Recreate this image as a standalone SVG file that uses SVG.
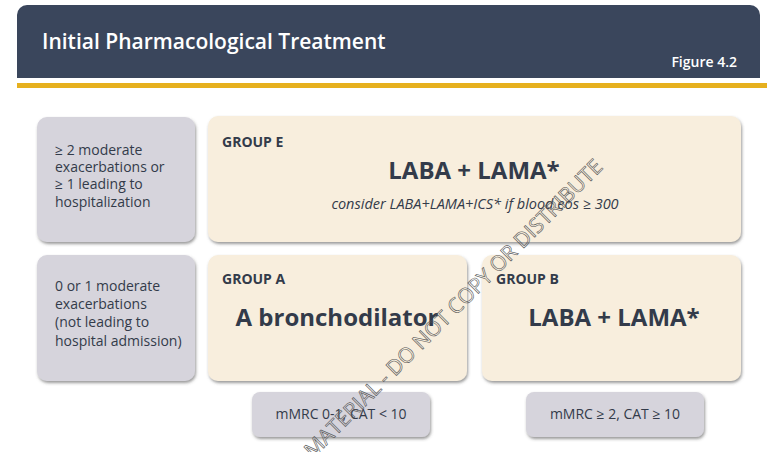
<svg xmlns="http://www.w3.org/2000/svg" width="767" height="452" viewBox="0 0 767 452">
<defs>
<filter id="sh" x="-10%" y="-10%" width="120%" height="130%"><feDropShadow dx="1" dy="2" stdDeviation="1.5" flood-color="#555" flood-opacity="0.6"/></filter>
<style>
text{font-family:"Open Sans","Noto Sans","Liberation Sans",sans-serif;fill:#333b4a}
.crit{fill:#d6d4dc;filter:url(#sh)}
.grp{fill:#f8eedd;filter:url(#sh)}
.c{font-size:14px}
.gl{font-size:14px;font-weight:bold}
.big{font-size:24px;font-weight:bold;text-anchor:middle}
.mm{font-size:14px;text-anchor:middle}
</style>
</defs>
<rect width="767" height="452" fill="#ffffff"/>
<g id="header">
<path d="M17 78 V15 a10 10 0 0 1 10 -10 H750 a10 10 0 0 1 10 10 V78 Z" fill="#3a465c"/>
<rect x="17" y="83" width="750" height="5" fill="#e6b01e"/>
<text x="42" y="49" style="font-size:21px;font-weight:600;fill:#ffffff">Initial Pharmacological Treatment</text>
<text x="737" y="67" style="font-size:14px;font-weight:600;fill:#ffffff;text-anchor:end">Figure 4.2</text>
</g>
<g id="crit1"><rect class="crit" x="37" y="117" width="158" height="125" rx="10"/>
<text class="c" x="55" y="155">≥ 2 moderate</text><text class="c" x="55" y="172">exacerbations or</text><text class="c" x="55" y="189">≥ 1 leading to</text><text class="c" x="55" y="207">hospitalization</text></g>
<g id="crit2"><rect class="crit" x="37" y="255" width="158" height="126" rx="10"/>
<text class="c" x="55" y="291">0 or 1 moderate</text><text class="c" x="55" y="309">exacerbations</text><text class="c" x="55" y="327">(not leading to</text><text class="c" x="55" y="346">hospital admission)</text></g>
<g id="groupE"><rect class="grp" x="208" y="116" width="533" height="126" rx="10"/>
<text class="gl" x="222" y="147">GROUP E</text>
<text class="big" x="474" y="179">LABA + LAMA*</text>
<text x="475" y="209" style="font-size:14.5px;font-style:italic;text-anchor:middle">consider LABA+LAMA+ICS* if blood eos ≥ 300</text></g>
<g id="groupA"><rect class="grp" x="208" y="255" width="259" height="126" rx="10"/>
<text class="gl" x="222" y="284">GROUP A</text>
<text class="big" x="337" y="326">A bronchodilator</text></g>
<g id="groupB"><rect class="grp" x="482" y="255" width="259" height="126" rx="10"/>
<text class="gl" x="496" y="284">GROUP B</text>
<text class="big" x="614" y="326">LABA + LAMA*</text></g>
<g id="symA"><rect class="crit" x="252" y="392" width="178" height="45" rx="8"/>
<text class="mm" x="341" y="419">mMRC 0-1, CAT &lt; 10</text></g>
<g id="symB"><rect class="crit" x="526" y="392" width="178" height="45" rx="8"/>
<text class="mm" x="615" y="419">mMRC ≥ 2, CAT ≥ 10</text></g>
<g id="connectors"/>
<text transform="translate(604,168) rotate(-45)" style="font-size:21px;text-anchor:end;fill:none;stroke:#555;stroke-width:0.6">MATERIAL - DO NOT COPY OR DISTRIBUTE</text>
</svg>
